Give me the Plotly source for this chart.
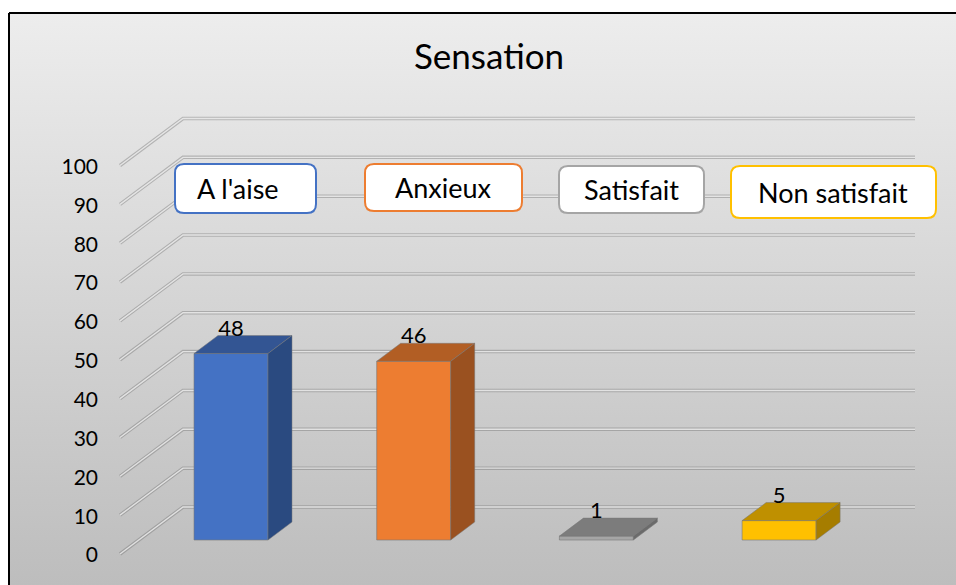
#!/usr/bin/env python3
"""Sensation - 3D looking bar chart, faked with flat faces on a cartesian plot."""

import plotly.graph_objects as go

categories = ["A l'aise", "Anxieux", "Satisfait", "Non satisfait"]
values = [48, 46, 1, 5]
y_ticks = [0, 10, 20, 30, 40, 50, 60, 70, 80, 90, 100]

front_colors = ["#4472C4", "#ED7D31", "#A5A5A5", "#FFC000"]
top_colors = ["#335593", "#B25E24", "#7C7C7C", "#BF9000"]
side_colors = ["#2A4A80", "#9A5120", "#6B6B6B", "#A67D00"]

W, H = 956, 585
X_ZERO, X_STEP = 231, 182.7  # pixel of first category, pixels per category
Y_ZERO, Y_STEP = 554, 3.885  # pixel of value 0, pixels per unit

BAR_WIDTH = 74 / X_STEP
BAR_BASE = 14 / Y_STEP  # bars stand a little behind the front edge of the floor
BAR_DX, BAR_DY = 24 / X_STEP, 18 / Y_STEP
WALL_DX, WALL_DY = 63 / X_STEP, 47 / Y_STEP
GRID_LEFT = (120 - X_ZERO) / X_STEP
GRID_RIGHT = (915 - X_ZERO) / X_STEP
LABEL_GAP = 23.5 / Y_STEP

# left, top, right, bottom in pixels, then text centre
LEGEND_BOXES = [
    (175, 164, 316, 213, 238, 189),
    (365, 164, 522, 211, 443, 188),
    (559, 166, 704, 213, 631, 190),
    (731, 166, 936, 218, 833, 193),
]

FONT = "Lato, 'Open Sans', sans-serif"


def px_x(p):
    return (p - X_ZERO) / X_STEP


def px_y(p):
    return (Y_ZERO - p) / Y_STEP


def rounded_box(l, t, r, b, rad=9):
    """SVG path of a rounded rectangle, in paper fractions."""
    def fx(v):
        return v / W

    def fy(v):
        return 1 - v / H

    return (
        f"M{fx(l + rad)},{fy(t)} L{fx(r - rad)},{fy(t)} Q{fx(r)},{fy(t)} {fx(r)},{fy(t + rad)} "
        f"L{fx(r)},{fy(b - rad)} Q{fx(r)},{fy(b)} {fx(r - rad)},{fy(b)} "
        f"L{fx(l + rad)},{fy(b)} Q{fx(l)},{fy(b)} {fx(l)},{fy(b - rad)} "
        f"L{fx(l)},{fy(t + rad)} Q{fx(l)},{fy(t)} {fx(l + rad)},{fy(t)} Z"
    )


fig = go.Figure()

# gradient chart area
fig.add_trace(go.Scatter(
    x=[px_x(9), px_x(W), px_x(W), px_x(9), px_x(9)],
    y=[px_y(13), px_y(13), px_y(H), px_y(H), px_y(13)],
    mode="lines",
    line=dict(width=0),
    fill="toself",
    fillgradient=dict(type="vertical", colorscale=[[0, "#BDBDBD"], [1, "#EDEDED"]]),
    hoverinfo="skip",
    showlegend=False,
))

# walls: each gridline runs up the side wall, then along the back wall
grid_x, grid_y = [], []
for tick in y_ticks:
    grid_x += [GRID_LEFT, GRID_LEFT + WALL_DX, GRID_RIGHT, None]
    grid_y += [tick, tick + WALL_DY, tick + WALL_DY, None]

fig.add_trace(go.Scatter(x=grid_x, y=grid_y, mode="lines", hoverinfo="skip", showlegend=False,
                         line=dict(color="rgba(110,110,110,0.4)", width=3.5)))
fig.add_trace(go.Scatter(x=grid_x, y=grid_y, mode="lines", hoverinfo="skip", showlegend=False,
                         line=dict(color="rgba(245,245,245,0.75)", width=1.4)))

# front faces
fig.add_trace(go.Bar(
    x=list(range(len(categories))),
    y=values,
    base=BAR_BASE,
    width=BAR_WIDTH,
    marker=dict(color=front_colors, line=dict(color="rgba(120,120,120,0.6)", width=1)),
    customdata=categories,
    hovertemplate="%{customdata}: %{y}<extra></extra>",
    showlegend=False,
    xaxis="x2",
    yaxis="y2",
))

# top and side faces
for i, val in enumerate(values):
    left, right = i - BAR_WIDTH / 2, i + BAR_WIDTH / 2
    bottom, top = BAR_BASE, BAR_BASE + val
    fig.add_trace(go.Scatter(
        x=[left, right, right + BAR_DX, left + BAR_DX, left],
        y=[top, top, top + BAR_DY, top + BAR_DY, top],
        mode="lines", fill="toself", fillcolor=top_colors[i],
        line=dict(color="rgba(120,120,120,0.5)", width=1),
        hoverinfo="skip", showlegend=False, xaxis="x2", yaxis="y2",
    ))
    fig.add_trace(go.Scatter(
        x=[right, right + BAR_DX, right + BAR_DX, right, right],
        y=[bottom, bottom + BAR_DY, top + BAR_DY, top, bottom],
        mode="lines", fill="toself", fillcolor=side_colors[i],
        line=dict(color="rgba(120,120,120,0.5)", width=1),
        hoverinfo="skip", showlegend=False, xaxis="x2", yaxis="y2",
    ))

# data labels
fig.add_trace(go.Scatter(
    x=list(range(len(categories))),
    y=[v + BAR_BASE + LABEL_GAP for v in values],
    mode="text",
    text=[str(v) for v in values],
    textposition="middle center",
    textfont=dict(size=22, color="#000000", family=FONT),
    hoverinfo="skip",
    showlegend=False,
    xaxis="x2",
    yaxis="y2",
))

# category boxes in place of a legend
shapes = [
    dict(type="line", xref="paper", yref="paper", x0=9 / W, x1=9 / W, y0=0, y1=1 - 13 / H,
         line=dict(color="#000000", width=2)),
    dict(type="line", xref="paper", yref="paper", x0=9 / W, x1=1, y0=1 - 13 / H, y1=1 - 13 / H,
         line=dict(color="#000000", width=2)),
]
annotations = []
for name, color, box in zip(categories, front_colors, LEGEND_BOXES):
    l, t, r, b, cx, cy = box
    shapes.append(dict(type="path", xref="paper", yref="paper", path=rounded_box(l, t, r, b),
                       fillcolor="#FFFFFF", line=dict(color=color, width=2)))
    annotations.append(dict(xref="paper", yref="paper", x=cx / W, y=1 - cy / H, text=name,
                            showarrow=False, xanchor="center", yanchor="middle",
                            font=dict(size=27, color="#000000", family=FONT)))

x_range = [px_x(0), px_x(W)]
y_range = [px_y(H), px_y(0)]

fig.update_layout(
    width=W,
    height=H,
    margin=dict(l=0, r=0, t=0, b=0),
    paper_bgcolor="#FFFFFF",
    plot_bgcolor="rgba(0,0,0,0)",
    font=dict(family=FONT, color="#000000"),
    title=dict(text="Sensation", x=489 / W, xanchor="center", y=1 - 57 / H, yanchor="middle",
               font=dict(size=35, color="#000000", family=FONT)),
    showlegend=False,
    shapes=shapes,
    annotations=annotations,
    xaxis=dict(range=x_range, visible=False, fixedrange=True),
    yaxis=dict(range=y_range, anchor="free", position=98 / W, tickvals=y_ticks,
               showgrid=False, zeroline=False, showline=False, ticks="", ticklabelshift=1,
               tickfont=dict(size=21, color="#000000", family=FONT), fixedrange=True),
    xaxis2=dict(range=x_range, overlaying="x", visible=False, fixedrange=True),
    yaxis2=dict(range=y_range, overlaying="y", visible=False, fixedrange=True),
)

fig.write_html("out.html", config={"displayModeBar": False},
               post_script="document.body.style.margin='0';")
